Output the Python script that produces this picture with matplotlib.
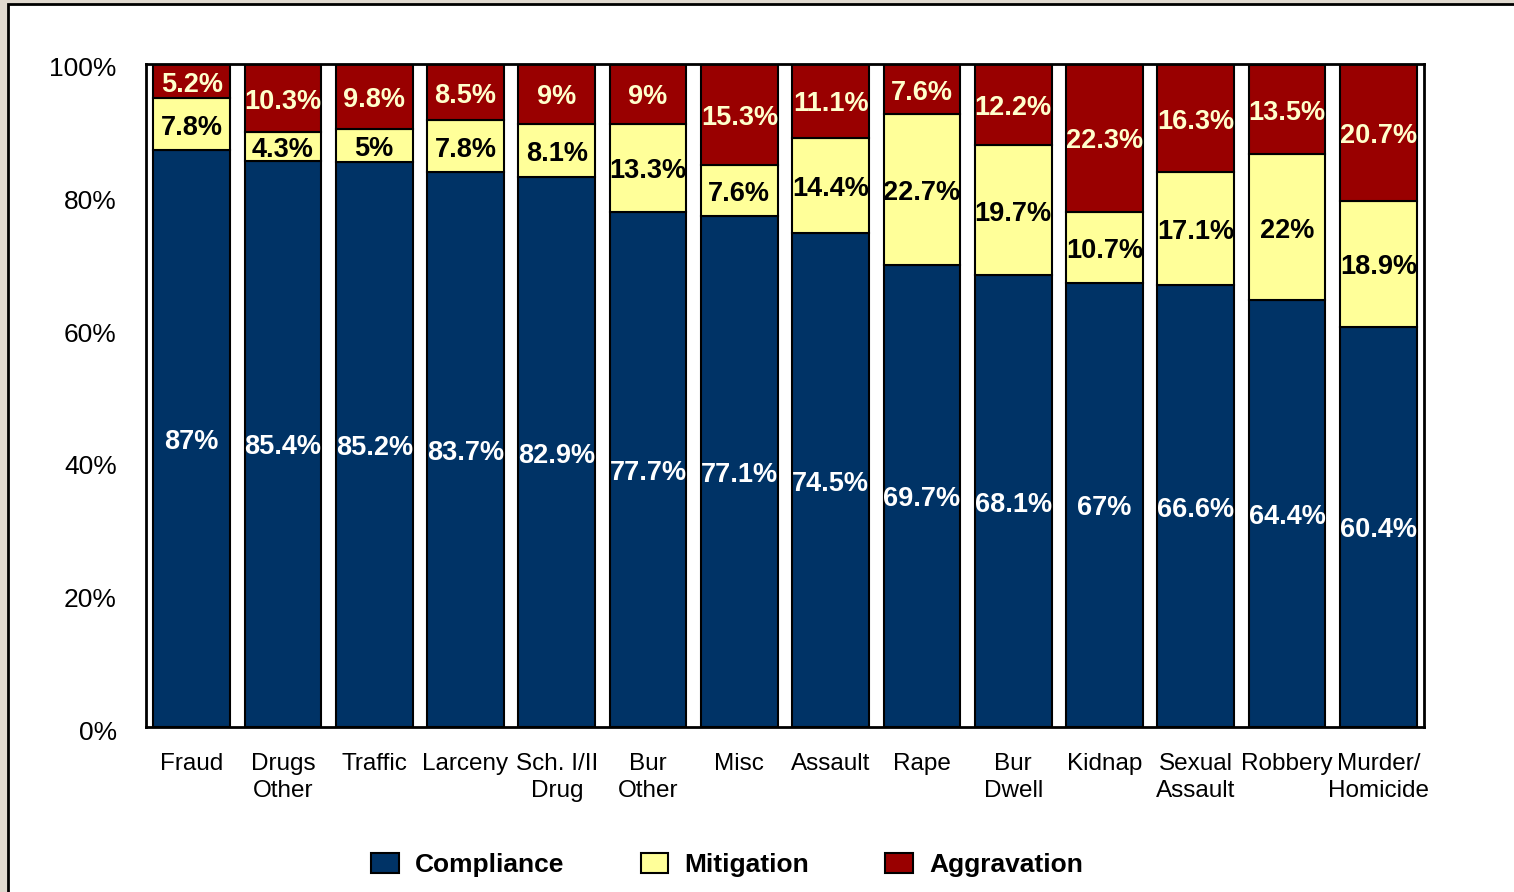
import matplotlib.pyplot as plt
import matplotlib.transforms as mtransforms
from matplotlib.patches import Rectangle
import numpy as np

# Donnees
categories = ['Fraud', 'Drugs\nOther', 'Traffic', 'Larceny', 'Sch. I/II\nDrug', 'Bur\nOther',
              'Misc', 'Assault', 'Rape', 'Bur\nDwell', 'Kidnap', 'Sexual\nAssault',
              'Robbery', 'Murder/\nHomicide']
compliance = [87, 85.4, 85.2, 83.7, 82.9, 77.7, 77.1, 74.5, 69.7, 68.1, 67, 66.6, 64.4, 60.4]
mitigation = [7.8, 4.3, 5, 7.8, 8.1, 13.3, 7.6, 14.4, 22.7, 19.7, 10.7, 17.1, 22, 18.9]
aggravation = [5.2, 10.3, 9.8, 8.5, 9, 9, 15.3, 11.1, 7.6, 12.2, 22.3, 16.3, 13.5, 20.7]
yticks = [0, 20, 40, 60, 80, 100]

plt.rcParams['font.family'] = ['Liberation Sans', 'DejaVu Sans']

fig = plt.figure(figsize=(15.14, 8.92), dpi=100)
fig.patch.set_facecolor('#e0d9cf')
# panneau blanc avec bord noir
fig.patches.append(Rectangle((8 / 1514, -0.1), 1.2, 0.1 + 1 - 4 / 892, transform=fig.transFigure,
                             facecolor='white', edgecolor='black', linewidth=2, zorder=-5))

ax = fig.add_axes([146 / 1514, 1 - 727 / 892, 1278 / 1514, 663 / 892])
ax.set_facecolor('white')

x = np.arange(len(categories))
comp = np.array(compliance)
mit = np.array(mitigation)
agg = np.array(aggravation)

b1 = ax.bar(x, comp, 0.84, color='#003366', edgecolor='black', linewidth=1.5, label='Compliance')
b2 = ax.bar(x, mit, 0.84, bottom=comp, color='#ffff99', edgecolor='black', linewidth=1.5, label='Mitigation')
b3 = ax.bar(x, agg, 0.84, bottom=comp + mit, color='#990000', edgecolor='black', linewidth=1.5, label='Aggravation')

def fmt(v):
    return '%g%%' % v

def etiquette(xi, yi, txt, col):
    ax.annotate(txt, (xi, yi), xytext=(0, -2.5), textcoords='offset points', ha='center',
                va='center', color=col, fontsize=19.5, fontweight='bold')

for i in range(len(categories)):
    etiquette(x[i], comp[i] / 2, fmt(comp[i]), 'white')
    etiquette(x[i], comp[i] + mit[i] / 2, fmt(mit[i]), 'black')
    etiquette(x[i], comp[i] + mit[i] + agg[i] / 2, fmt(agg[i]), '#ffffcc')

ax.set_xlim(-0.5, len(categories) - 0.5)
ax.set_ylim(0, 100)
ax.set_yticks(yticks)
ax.set_yticklabels(['%d%%' % t for t in yticks], fontsize=19)
ax.set_xticks(x)
ax.set_xticklabels(categories, fontsize=17.5, linespacing=1.3)
ax.tick_params(axis='y', length=0, pad=21)
ax.tick_params(axis='x', length=0, pad=19)
decal = mtransforms.ScaledTranslation(0, -3 / 100, fig.dpi_scale_trans)
for lab in ax.get_yticklabels():
    lab.set_transform(lab.get_transform() + decal)
for s in ax.spines.values():
    s.set_linewidth(2)
    s.set_color('black')

# Legende
fig.legend(handles=[b1, b2, b3], loc='center', bbox_to_anchor=(727 / 1514, 0.03), ncol=3,
           frameon=False, prop={'size': 19, 'weight': 'bold'}, handlelength=1.05,
           handleheight=0.75, handletextpad=0.6, columnspacing=2.9)

plt.savefig('out.png', dpi=100, facecolor=fig.get_facecolor())
